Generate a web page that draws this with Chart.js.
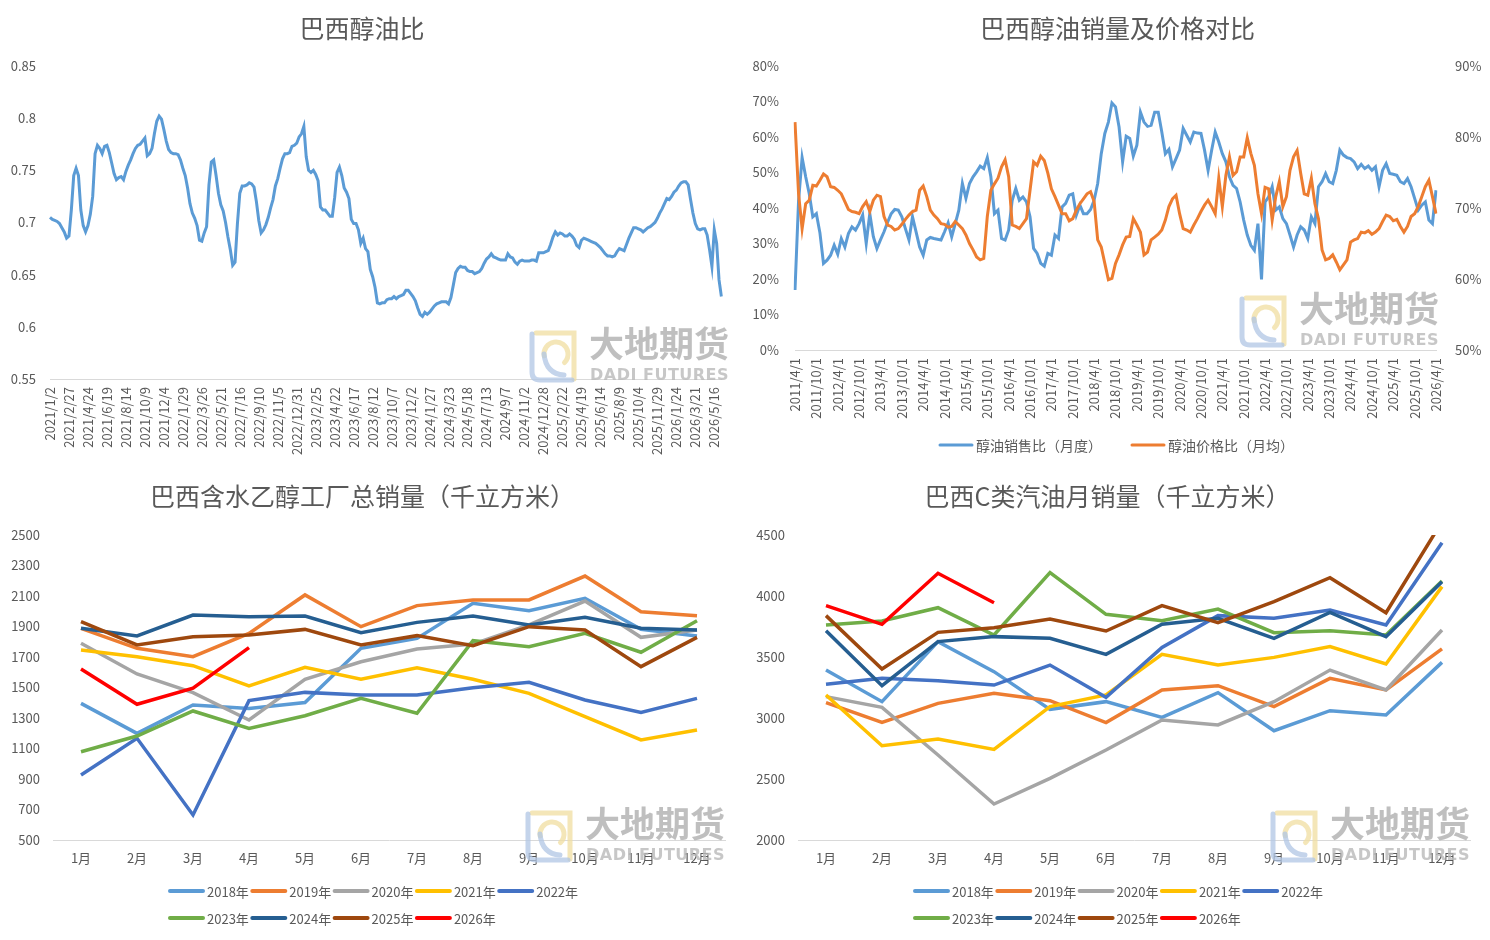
<!DOCTYPE html>
<html>
<head>
<meta charset="utf-8">
<script src="https://cdn.jsdelivr.net/npm/chart.js@4/dist/chart.umd.min.js"></script>
<style>
  html, body { margin: 0; padding: 0; background: #fff; }
  #wrap { position: relative; width: 1490px; height: 940px; }
  .box { position: absolute; width: 745px; height: 470px; }
</style>
</head>
<body>
<div id="wrap">
  <div class="box" style="left:0;top:0"><canvas id="c1" width="745" height="470"></canvas></div>
  <div class="box" style="left:745px;top:0"><canvas id="c2" width="745" height="470"></canvas></div>
  <div class="box" style="left:0;top:470px"><canvas id="c3" width="745" height="470"></canvas></div>
  <div class="box" style="left:745px;top:470px"><canvas id="c4" width="745" height="470"></canvas></div>
</div>
<script>
// 巴西醇油比（周度，自 2021/1/2 起）
const ratioWeekly = [
  0.705,0.703,0.702,0.701,0.699,0.695,0.691,0.685,0.687,0.712,
  0.745,0.752,0.745,0.712,0.697,0.691,0.697,0.708,0.725,0.766,
  0.774,0.771,0.766,0.773,0.774,0.767,0.757,0.747,0.741,0.743,
  0.744,0.741,0.749,0.755,0.760,0.766,0.771,0.774,0.775,0.778,
  0.781,0.764,0.766,0.771,0.785,0.797,0.802,0.799,0.789,0.778,
  0.770,0.767,0.766,0.766,0.765,0.760,0.752,0.745,0.733,0.718,
  0.709,0.704,0.697,0.683,0.682,0.690,0.696,0.736,0.758,0.760,
  0.745,0.728,0.717,0.711,0.700,0.686,0.674,0.659,0.662,0.699,
  0.728,0.735,0.735,0.736,0.738,0.737,0.734,0.720,0.702,0.690,
  0.693,0.698,0.705,0.714,0.722,0.735,0.742,0.752,0.761,0.766,
  0.766,0.767,0.773,0.774,0.776,0.782,0.785,0.792,0.763,0.750,
  0.748,0.750,0.746,0.740,0.715,0.712,0.712,0.709,0.706,0.706,
  0.724,0.748,0.753,0.745,0.733,0.729,0.723,0.703,0.699,0.699,
  0.693,0.680,0.685,0.675,0.672,0.655,0.648,0.638,0.623,0.622,
  0.623,0.623,0.626,0.627,0.627,0.629,0.627,0.629,0.630,0.631,
  0.635,0.635,0.632,0.629,0.625,0.618,0.612,0.610,0.614,0.612,
  0.614,0.617,0.620,0.622,0.623,0.624,0.624,0.624,0.622,0.628,
  0.640,0.652,0.656,0.658,0.657,0.657,0.654,0.653,0.653,0.651,
  0.652,0.653,0.656,0.661,0.665,0.667,0.670,0.667,0.666,0.665,
  0.664,0.664,0.664,0.670,0.667,0.666,0.662,0.660,0.663,0.664,
  0.663,0.663,0.663,0.664,0.664,0.663,0.671,0.671,0.671,0.672,
  0.673,0.679,0.686,0.691,0.688,0.690,0.689,0.687,0.687,0.689,
  0.687,0.684,0.678,0.676,0.683,0.685,0.684,0.683,0.682,0.681,
  0.680,0.678,0.676,0.673,0.670,0.668,0.668,0.667,0.668,0.672,
  0.675,0.674,0.673,0.679,0.685,0.690,0.695,0.695,0.694,0.693,
  0.691,0.693,0.695,0.696,0.698,0.700,0.704,0.709,0.713,0.718,
  0.723,0.722,0.725,0.729,0.731,0.735,0.738,0.739,0.739,0.736,
  0.722,0.709,0.699,0.694,0.693,0.694,0.694,0.688,0.674,0.658,
  0.693,0.680,0.645,0.629
];

// 醇油销售比（月度，%，自 2011/4/1 起）
const salesRatio = [
  16.9,42,54.2,48.8,44,37.5,38.4,33,24.4,25.3,
  26.7,29.5,27,31.4,29,32.8,34.7,33.8,35.6,38,
  30,38.4,31.9,28.6,31,33.3,36,38.4,39.6,39.4,
  37.5,34.2,31,37.5,33.3,29,26.7,31,31.7,31.4,
  31.2,31,33.3,35.8,31.9,35.6,39.4,46.9,42.7,46.9,
  48.8,50.2,51.8,51.1,54.2,48.8,38.4,39.4,31.4,31,
  33.8,42.2,45.5,42.2,43.1,41.7,37.5,28.6,27.2,24.4,
  23.6,27.2,26.7,32.4,31.4,40.3,41.3,43.6,44,38,
  40.8,38.4,38.4,39.6,42.2,46.9,55.3,61,64.2,69.6,
  68.5,62.8,53,60.2,59.6,54.6,57.7,67,64.2,63,
  63.3,67,67,61.4,55.3,56.5,51.6,53.9,56.3,62.4,
  60.5,58.6,61.4,61.1,61,56.3,50.6,56.3,61.4,58.6,
  55.3,53,48.8,46.4,45.5,41.7,36.6,32.4,29.5,28.1,
  35.6,19.9,41.7,43.1,46,39.4,40.3,37,35.6,32.4,
  29,32.4,34.7,33.8,31.4,37.5,35.6,46,47.4,49.7,
  47.4,46.9,50.6,56.3,54.9,54.2,53.9,53,51.1,52.3,
  51.1,51.8,50.6,51.6,46,50.6,52.5,49.7,49.5,49.2,
  47.4,46.9,48.3,46,42.7,39.4,40.8,41.7,36.6,35.6,
  45
];

// 醇油价格比（月均，%，右轴）
const priceRatio = [
  82.1,72,67.1,70.6,71.1,73.2,73.1,73.9,74.8,74.4,
  73,72.9,72.5,72,70.9,69.8,69.5,69.4,69.2,70.2,
  70.9,69.5,71.1,71.8,71.6,68.8,67.6,67.4,66.9,67.1,
  67.7,68.4,69,69.5,69.7,72.5,73.1,71.6,69.7,69,
  68.5,67.8,67.7,67.3,67.4,68.1,67.6,67.1,66.2,65,
  64.1,63.1,62.7,62.9,68.8,72.5,73.4,74.2,75.8,76.8,
  74.4,67.6,67.4,67.1,67.8,68.5,72.5,76.5,76,77.3,
  76.7,74.9,72.7,71.6,70.4,69.2,69.2,68.2,68.5,69.7,
  70.6,71.3,72,72.3,70.9,65.5,64.5,62.2,59.9,60.1,
  62.2,63.4,64.8,65.9,66,68.5,67.6,66.6,63.4,63.8,
  65.5,65.9,66.3,66.9,68.3,70.2,71.3,71.8,69.2,67.1,
  66.9,66.6,67.6,68.5,69.5,70.4,71.1,70.2,69.2,74.2,
  70.2,74.6,77.2,74.6,75.1,77.2,77.2,79.9,77.7,76,
  72,69.2,72.9,72.7,68.3,71.6,73.7,70.2,71.6,75.3,
  77.2,78.1,74.9,72,71.8,74.2,70.6,68.5,64.1,62.7,
  62.9,63.4,62.4,61.3,62,62.7,65.2,65.5,65.7,66.6,
  66.5,66.8,66.3,66.6,67.1,68.1,69,68.8,68.2,68.4,
  67.4,66.6,67.4,68.8,69.2,70.2,71.6,73,73.9,71.6,
  69.2
];

const months = ['1月','2月','3月','4月','5月','6月','7月','8月','9月','10月','11月','12月'];
const years = ['2018年','2019年','2020年','2021年','2022年','2023年','2024年','2025年','2026年'];
const yearColors = ['#5B9BD5','#ED7D31','#A5A5A5','#FFC000','#4472C4','#70AD47','#255E91','#9E480E','#FF0000'];

// 巴西含水乙醇工厂总销量（千立方米）
const eth2018 = [1396,1199,1385,1363,1401,1757,1822,2052,2004,2085,1881,1838];
const eth2019 = [1888,1757,1702,1855,2107,1899,2037,2074,2074,2231,1997,1971];
const eth2020 = [1790,1589,1466,1287,1554,1669,1752,1785,1910,2067,1829,1877];
const eth2021 = [1746,1702,1643,1510,1632,1554,1630,1554,1462,1309,1156,1221];
const eth2022 = [926,1167,664,1414,1468,1451,1451,1499,1534,1418,1337,1429];
const eth2023 = [1079,1182,1346,1232,1315,1429,1331,1807,1768,1855,1731,1938];
const eth2024 = [1888,1838,1975,1964,1969,1860,1927,1969,1910,1960,1888,1877];
const eth2025 = [1932,1779,1833,1844,1881,1779,1840,1774,1899,1877,1637,1829];
const eth2026 = [1621,1390,1495,1761];

// 巴西C类汽油月销量（千立方米）
const gas2018 = [3393,3134,3626,3380,3071,3134,3005,3208,2896,3060,3025,3456];
const gas2019 = [3126,2964,3120,3202,3142,2962,3230,3265,3093,3325,3230,3566];
const gas2020 = [3175,3087,2697,2295,2505,2738,2984,2943,3134,3393,3230,3721];
const gas2021 = [3189,2773,2828,2743,3093,3189,3522,3434,3497,3585,3443,4077];
const gas2022 = [3276,3325,3306,3270,3434,3169,3579,3839,3817,3885,3762,4437];
const gas2023 = [3762,3795,3904,3680,4191,3850,3798,3893,3699,3716,3680,4123];
const gas2024 = [3716,3265,3626,3667,3653,3522,3768,3817,3653,3866,3667,4117];
const gas2025 = [3839,3402,3702,3740,3811,3713,3921,3781,3954,4150,3863,4610];
const gas2026 = [3921,3768,4186,3945];

// 日期类目
const weekLabels = [];
for (let i = 0; i < ratioWeekly.length; i++) {
  const d = new Date(Date.UTC(2021, 0, 2 + i * 7));
  weekLabels.push(d.getUTCFullYear() + '/' + (d.getUTCMonth() + 1) + '/' + d.getUTCDate());
}
const monthLabels = [];
for (let i = 0; i < salesRatio.length; i++) {
  monthLabels.push((2011 + Math.floor((3 + i) / 12)) + '/' + ((3 + i) % 12 + 1) + '/1');
}

const FONT = '"Noto Sans CJK SC", "Noto Sans", sans-serif';
Chart.defaults.font.family = FONT;
Chart.defaults.font.size = 13;
Chart.defaults.color = '#595959';

// 图例：线段 + 文字，行左对齐
const lineLegend = {
  id: 'lineLegend',
  afterDraw(chart, args, o) {
    const ctx = chart.ctx;
    ctx.save();
    ctx.font = (o.fontSize || 13) + 'px ' + FONT;
    ctx.fillStyle = '#595959';
    ctx.textBaseline = 'middle';
    chart.data.datasets.forEach((ds, i) => {
      const x = o.x + (i % o.perRow) * o.pitch;
      const y = o.y + Math.floor(i / o.perRow) * (o.rowGap || 0);
      ctx.strokeStyle = ds.borderColor;
      ctx.lineWidth = o.lineWidth;
      ctx.lineCap = 'round';
      ctx.beginPath();
      ctx.moveTo(x, y);
      ctx.lineTo(x + o.lineLen, y);
      ctx.stroke();
      ctx.fillText(ds.label, x + o.lineLen + 4, y + 1);
    });
    ctx.restore();
  }
};

// 水印
const watermark = {
  id: 'watermark',
  afterDraw(chart, args, o) {
    const ctx = chart.ctx, x = o.x, y = o.y;
    ctx.save();
    ctx.lineWidth = 5;
    ctx.lineCap = 'round';
    ctx.strokeStyle = 'rgba(240,222,160,0.75)';
    ctx.beginPath(); ctx.moveTo(x + 8, y + 3); ctx.lineTo(x + 46, y + 3); ctx.lineTo(x + 46, y + 49); ctx.stroke();
    ctx.beginPath(); ctx.arc(x + 28, y + 24, 12, Math.PI * 0.95, Math.PI * 2.25); ctx.stroke();
    ctx.strokeStyle = 'rgba(176,198,228,0.75)';
    ctx.beginPath(); ctx.moveTo(x + 4, y + 4); ctx.lineTo(x + 4, y + 42); ctx.quadraticCurveTo(x + 4, y + 50, x + 12, y + 50); ctx.lineTo(x + 44, y + 50); ctx.stroke();
    ctx.beginPath(); ctx.moveTo(x + 16, y + 24); ctx.quadraticCurveTo(x + 18, y + 44, x + 36, y + 45); ctx.stroke();
    ctx.fillStyle = 'rgba(175,175,175,0.8)';
    ctx.textBaseline = 'top';
    ctx.font = 'bold 35px ' + FONT;
    ctx.fillText('大地期货', x + 61, y - 4);
    ctx.fillStyle = 'rgba(185,185,185,0.8)';
    ctx.font = 'bold 16px "DejaVu Sans"';
    ctx.letterSpacing = '0.5px';
    ctx.fillText('DADI FUTURES', x + 62, y + 38);
    ctx.restore();
  }
};

const noGrid = { display: false, drawTicks: false };
const axisLine = { color: '#D9D9D9', width: 1 };

function titleOpt(text, top, bottom) {
  return { display: true, text: text, color: '#595959', font: { size: 25, weight: 'normal' }, padding: { top: top, bottom: bottom } };
}

// 巴西醇油比
new Chart(document.getElementById('c1'), {
  type: 'line',
  data: {
    labels: weekLabels,
    datasets: [{ label: '醇油比', data: ratioWeekly, borderColor: '#5B9BD5', borderWidth: 3, pointRadius: 0, tension: 0 }]
  },
  options: {
    responsive: false, animation: false,
    layout: { padding: { left: 0, right: 21, top: 0, bottom: 0 } },
    plugins: {
      legend: { display: false }, tooltip: { enabled: false },
      title: titleOpt('巴西醇油比', 13, 23),
      watermark: { x: 528, y: 330 }
    },
    scales: {
      x: {
        grid: noGrid, border: axisLine,
        ticks: { autoSkip: false, maxRotation: 90, minRotation: 90, padding: 8,
                 callback: (v, i) => i % 8 === 0 ? weekLabels[i] : '' },
        afterFit: s => { s.height = 91; }
      },
      y: {
        min: 0.55, max: 0.85, grid: noGrid, border: { display: false },
        ticks: { stepSize: 0.05, padding: 14, callback: v => String(+v.toFixed(2)) },
        afterFit: s => { s.width = 50; }
      }
    }
  },
  plugins: [watermark]
});

// 巴西醇油销量及价格对比
new Chart(document.getElementById('c2'), {
  type: 'line',
  data: {
    labels: monthLabels,
    datasets: [
      { label: '醇油销售比（月度）', data: salesRatio, borderColor: '#5B9BD5', borderWidth: 3, pointRadius: 0, tension: 0, yAxisID: 'y', order: 1 },
      { label: '醇油价格比（月均）', data: priceRatio, borderColor: '#ED7D31', borderWidth: 3, pointRadius: 0, tension: 0, yAxisID: 'y1', order: 0 }
    ]
  },
  options: {
    responsive: false, animation: false,
    layout: { padding: { left: 0, right: 0, top: 0, bottom: 0 } },
    plugins: {
      legend: { display: false }, tooltip: { enabled: false },
      title: titleOpt('巴西醇油销量及价格对比', 13, 23),
      lineLegend: { x: 195, y: 445, perRow: 2, pitch: 192, lineLen: 32, lineWidth: 3, fontSize: 14 },
      watermark: { x: 493, y: 295 }
    },
    scales: {
      x: {
        grid: noGrid, border: axisLine,
        ticks: { autoSkip: false, maxRotation: 90, minRotation: 90, padding: 8,
                 callback: (v, i) => i % 6 === 0 ? monthLabels[i] : '' },
        afterFit: s => { s.height = 120; }
      },
      y: {
        position: 'left', min: 0, max: 80, grid: noGrid, border: { display: false },
        ticks: { stepSize: 10, padding: 16, callback: v => v + '%' },
        afterFit: s => { s.width = 50; }
      },
      y1: {
        position: 'right', min: 50, max: 90, grid: noGrid, border: { display: false },
        ticks: { stepSize: 10, padding: 19, callback: v => v + '%' },
        afterFit: s => { s.width = 54; }
      }
    }
  },
  plugins: [lineLegend, watermark]
});

function yearSets(list) {
  return list.map((d, i) => ({
    label: years[i], data: d, borderColor: yearColors[i], backgroundColor: yearColors[i],
    borderWidth: 3.5, pointRadius: 0, tension: 0, order: list.length - 1 - i
  }));
}

function monthChart(id, title, sets, yMin, yMax, step) {
  return new Chart(document.getElementById(id), {
    type: 'line',
    data: { labels: months, datasets: yearSets(sets) },
    options: {
      responsive: false, animation: false,
      layout: { padding: { left: 0, right: 20, top: 0, bottom: 0 } },
      plugins: {
        legend: { display: false }, tooltip: { enabled: false },
        title: titleOpt(title, 11, 24),
        lineLegend: { x: 170, y: 421, rowGap: 27, perRow: 5, pitch: 82.3, lineLen: 33, lineWidth: 4 },
        watermark: { x: 524, y: 340 }
      },
      scales: {
        x: {
          offset: true, grid: noGrid, border: axisLine,
          ticks: { padding: 10 },
          afterFit: s => { s.height = 100; }
        },
        y: {
          min: yMin, max: yMax, grid: noGrid, border: { display: false },
          ticks: { stepSize: step, padding: 13, callback: v => String(v) },
          afterFit: s => { s.width = 53; }
        }
      }
    },
    plugins: [lineLegend, watermark]
  });
}

monthChart('c3', '巴西含水乙醇工厂总销量（千立方米）',
  [eth2018, eth2019, eth2020, eth2021, eth2022, eth2023, eth2024, eth2025, eth2026], 500, 2500, 200);
monthChart('c4', '巴西C类汽油月销量（千立方米）',
  [gas2018, gas2019, gas2020, gas2021, gas2022, gas2023, gas2024, gas2025, gas2026], 2000, 4500, 500);
</script>
</body>
</html>
